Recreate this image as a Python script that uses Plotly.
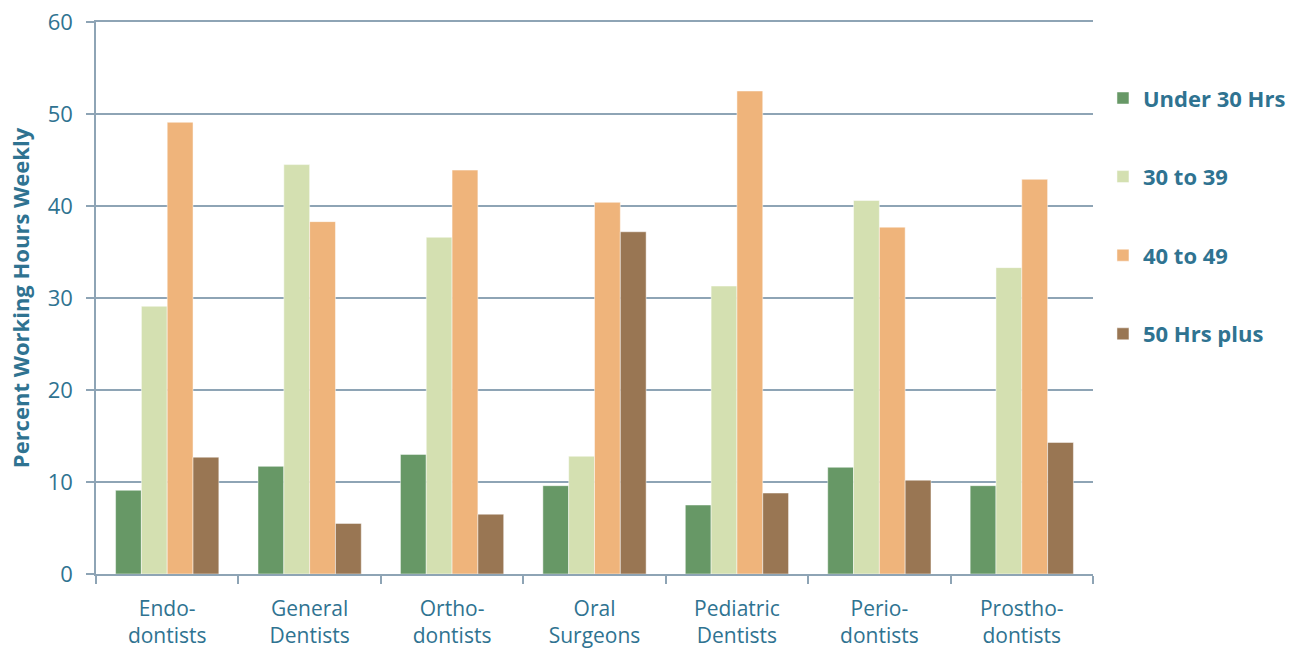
import plotly.graph_objects as go

categories = ["Endo-<br>dontists", "General<br>Dentists", "Ortho-<br>dontists", "Oral<br>Surgeons",
              "Pediatric<br>Dentists", "Perio-<br>dontists", "Prostho-<br>dontists"]
under_30 = [9.1, 11.7, 13.0, 9.6, 7.5, 11.6, 9.6]
h30_39 = [29.1, 44.5, 36.6, 12.8, 31.3, 40.6, 33.3]
h40_49 = [49.1, 38.3, 43.9, 40.4, 52.5, 37.7, 42.9]
h50_plus = [12.7, 5.5, 6.5, 37.2, 8.8, 10.2, 14.3]

series_names = ["Under 30 Hrs", "30 to 39", "40 to 49", "50 Hrs plus"]
series_values = [under_30, h30_39, h40_49, h50_plus]
colors = ["#679866", "#D4E0B1", "#EFB47B", "#997653"]

text_color = "#2F7391"
axis_color = "#8EA4B5"
font_family = "Open Sans, Lato, sans-serif"

fig = go.Figure()
for name, vals, col in zip(series_names, series_values, colors):
    fig.add_trace(go.Bar(
        x=categories, y=vals, name=name, legendgroup=name,
        marker=dict(color=col, line=dict(color="rgba(255,255,255,0.6)", width=0.8)),
    ))

fig.update_layout(
    width=1302, height=652,
    paper_bgcolor="white", plot_bgcolor="white",
    margin=dict(l=96, r=209, t=22, b=78, autoexpand=False),
    barmode="group", bargap=0.275, bargroupgap=0,
    font=dict(family=font_family, color=text_color, size=20),
    legend=dict(
        x=1.010, xanchor="left", y=0.900, yanchor="top",
        font=dict(family=font_family, size=22, color=text_color, weight="bold"),
        tracegroupgap=47, traceorder="grouped", itemwidth=30,
        bgcolor="rgba(0,0,0,0)",
    ),
    xaxis=dict(
        showline=True, linecolor=axis_color, linewidth=1.5, mirror=True,
        ticks="outside", tickson="boundaries", ticklen=8, tickcolor=axis_color, tickwidth=1.5,
        tickfont=dict(size=21, color=text_color), ticklabelstandoff=15, showgrid=False,
        automargin=False, ticklabeloverflow="allow",
    ),
    yaxis=dict(
        range=[0, 60], dtick=10,
        showline=True, linecolor=axis_color, linewidth=1.5,
        ticks="outside", ticklen=8, tickcolor=axis_color, tickwidth=1.5,
        showgrid=True, gridcolor=axis_color, gridwidth=1.5,
        tickfont=dict(size=22, color=text_color), ticklabelstandoff=9,
        ticklabeloverflow="allow",
        title=dict(text="<b>Percent Working Hours Weekly</b>", font=dict(size=22, color=text_color), standoff=12),
        zeroline=False, automargin=False,
    ),
)

# remove the default 8px page margin so the 1302x652 figure fills the window exactly
fig.write_html("out.html", config={"displayModeBar": False},
               post_script="document.body.style.margin='0';")
